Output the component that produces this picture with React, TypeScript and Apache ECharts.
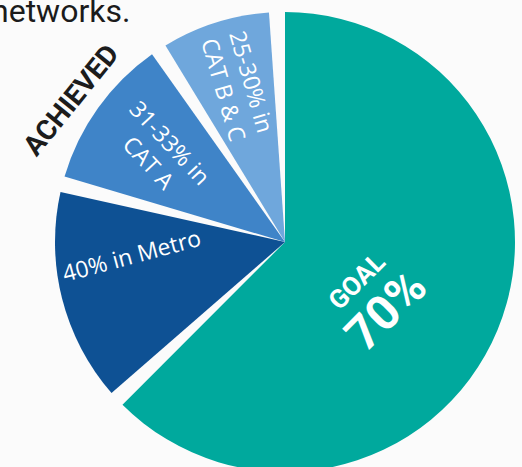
import React, { useEffect, useRef } from "react";
import * as echarts from "echarts";

// ---- data ----
const CATEGORIES = ["GOAL", "40% in Metro", "31-33% in CAT A", "25-30% in CAT B & C"];
const VALUES = [63.6, 16, 11.7, 8.7];
const LABELS = ["{g|GOAL}\n{p|70%}", "40% in Metro", "31-33% in\nCAT A", "25-30% in\nCAT B & C"];
const COLORS = ["#00A99D", "#0E5194", "#3F84C8", "#6FA7DC"];

// ---- layout / style ----
const CX = 285;
const CY = 242;
const R = 230;
const START_ANGLE = 92;
const PAD_ANGLE = 4;
const LABEL_ANGLE_SHIFT = [10, 9.4, 0, 1];
const LABEL_RADIUS = [0.46, 0.67, 0.67, 0.71];
const LABEL_ROTATE = [45, 15, -47, -74];

export default function App() {
  const ref = useRef<HTMLDivElement>(null);

  useEffect(() => {
    if (!ref.current) return;
    const chart = echarts.init(ref.current, undefined, { renderer: "svg" });
    const total = VALUES.reduce((a, b) => a + b, 0);
    const startDeg = 90 - START_ANGLE; // clockwise from top

    const option: any = {
      animation: false,
      backgroundColor: "#fbfbfb",
      graphic: [
        {
          type: "text",
          x: -9,
          y: 11,
          style: {
            text: "networks.",
            font: "32px Roboto",
            fill: "#1b1b1b",
            align: "left",
            verticalAlign: "middle",
          },
        },
        {
          type: "text",
          x: 71,
          y: 100,
          rotation: (51 * Math.PI) / 180,
          style: {
            text: "ACHIEVED",
            font: "bold 28px Roboto",
            fill: "#1c1c1c",
            align: "center",
            verticalAlign: "middle",
          },
        },
      ],
      series: [
        {
          type: "pie",
          center: [CX, CY],
          radius: R,
          startAngle: START_ANGLE,
          padAngle: PAD_ANGLE,
          clockwise: true,
          avoidLabelOverlap: false,
          emphasis: { disabled: true },
          label: {
            show: true,
            position: "inside",
            color: "#ffffff",
            fontFamily: "Open Sans",
            fontSize: 23,
            lineHeight: 29,
            formatter: (p: any) => LABELS[p.dataIndex],
            rich: {
              g: { fontFamily: "Roboto", fontWeight: "bold", fontSize: 26, color: "#fff", lineHeight: 32 },
              p: { fontFamily: "Roboto", fontWeight: "bold", fontSize: 48, color: "#fff", lineHeight: 50 },
            },
          },
          labelLine: { show: false },
          labelLayout: (params: any) => {
            const i = params.dataIndex;
            let cum = 0;
            for (let k = 0; k < i; k++) cum += VALUES[k];
            const mid = startDeg + ((cum + VALUES[i] / 2) / total) * 360 + LABEL_ANGLE_SHIFT[i];
            const rad = (mid * Math.PI) / 180;
            const r = R * LABEL_RADIUS[i];
            return {
              x: CX + r * Math.sin(rad),
              y: CY - r * Math.cos(rad),
              rotate: LABEL_ROTATE[i],
              align: "center",
              verticalAlign: "middle",
            };
          },
          data: CATEGORIES.map((name, i) => ({
            name,
            value: VALUES[i],
            itemStyle: { color: COLORS[i] },
          })),
        },
      ],
    };
    chart.setOption(option);
    return () => chart.dispose();
  }, []);

  return (
    <div
      ref={ref}
      style={{ position: "fixed", left: 0, top: 0, width: 522, height: 467 }}
    />
  );
}
